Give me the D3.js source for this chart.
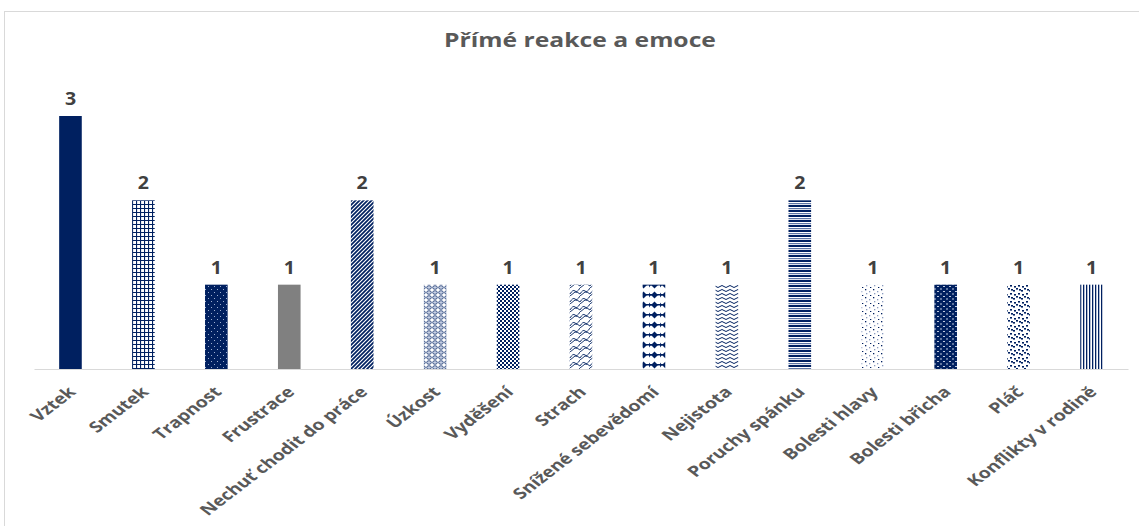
<!DOCTYPE html>
<html>
<head>
<meta charset="utf-8">
<script src="https://cdn.jsdelivr.net/npm/d3@7"></script>
<style>
  body { margin: 0; background: #fff; }
  text { font-family: "Open Sans", sans-serif; }
</style>
</head>
<body>
<div id="chart"></div>
<script>
const categories = ["Vztek", "Smutek", "Trapnost", "Frustrace", "Nechuť chodit do práce", "Úzkost",
  "Vyděšení", "Strach", "Snížené sebevědomí", "Nejistota", "Poruchy spánku", "Bolesti hlavy",
  "Bolesti břicha", "Pláč", "Konflikty v rodině"];
const values = [3, 2, 1, 1, 2, 1, 1, 1, 1, 1, 2, 1, 1, 1, 1];
const barFills = ["solid", "grid", "dotsInv", "gray", "diag", "sphere", "checker", "zigzag",
  "diamond", "wave", "hstripe", "sparse", "denseDash", "confetti", "vstripe"];

const navy = "#002060";
const W = 1139, H = 526;
const margin = { top: 116, right: 11, bottom: 157, left: 34 };
const stretch = 1.3; // the reference text is widened horizontally

const svg = d3.select("#chart").append("svg").attr("width", W).attr("height", H);
const defs = svg.append("defs");

// pattern helpers
function pat(id, w, h, bg) {
  const p = defs.append("pattern").attr("id", id).attr("patternUnits", "userSpaceOnUse")
    .attr("width", w).attr("height", h);
  p.append("rect").attr("width", w).attr("height", h).attr("fill", bg);
  return p;
}
let p;
p = pat("grid", 4, 4, "#fff");
p.append("path").attr("d", "M0,0.5H4M0.5,0V4").attr("stroke", navy).attr("stroke-width", 1.2);

p = pat("dotsInv", 6, 6, navy);
p.append("rect").attr("x", 1).attr("y", 1).attr("width", 1).attr("height", 1).attr("fill", "#9fb0d0");
p.append("rect").attr("x", 4).attr("y", 4).attr("width", 1).attr("height", 1).attr("fill", "#9fb0d0");

p = pat("diag", 4, 4, "#fff");
p.append("path").attr("d", "M-1,1L1,-1M0,4L4,0M3,5L5,3").attr("stroke", navy).attr("stroke-width", 1.7);

p = pat("sphere", 6, 5, "#fff");
p.append("ellipse").attr("cx", 3).attr("cy", 2.5).attr("rx", 2.3).attr("ry", 1.8).attr("fill", "#c7d0e4")
  .attr("stroke", navy).attr("stroke-width", 0.7);

p = pat("checker", 4, 4, "#fff");
p.append("rect").attr("width", 2).attr("height", 2).attr("fill", navy);
p.append("rect").attr("x", 2).attr("y", 2).attr("width", 2).attr("height", 2).attr("fill", navy);

p = pat("zigzag", 10, 8, "#fff");
p.append("path").attr("d", "M0,6Q3,1 5,3T10,0M0,8L5,4Q8,4 10,6").attr("fill", "none")
  .attr("stroke", navy).attr("stroke-width", 0.9);

p = pat("diamond", 11, 10, "#fff");
p.append("path").attr("d", "M5.5,1.5L9,5L5.5,8.5L2,5Z").attr("fill", navy);
p.append("path").attr("d", "M0,2.5L2,5L0,7.5Z").attr("fill", navy);
p.append("rect").attr("x", 0).attr("y", 4).attr("width", 11).attr("height", 1.5).attr("fill", navy);

p = pat("wave", 8, 4, "#fff");
p.append("path").attr("d", "M0,2.5Q2,0.5 4,2.5T8,2.5").attr("fill", "none").attr("stroke", navy).attr("stroke-width", 1);

p = pat("hstripe", 4, 5, "#fff");
p.append("rect").attr("y", 0).attr("width", 4).attr("height", 2).attr("fill", navy);
p.append("rect").attr("y", 3).attr("width", 4).attr("height", 1.2).attr("fill", "#5f76a6");

p = pat("sparse", 8, 8, "#fff");
[[1, 1, navy], [5, 3, "#8c9cc0"], [2, 5, "#8c9cc0"], [6, 7, navy]].forEach(([x, y, c]) =>
  p.append("rect").attr("x", x).attr("y", y).attr("width", 1.3).attr("height", 1.3).attr("fill", c));

p = pat("denseDash", 6, 5, navy);
p.append("rect").attr("x", 1).attr("y", 1).attr("width", 2).attr("height", 1).attr("fill", "#c0cbe0");
p.append("rect").attr("x", 4).attr("y", 3.5).attr("width", 2).attr("height", 1).attr("fill", "#c0cbe0");

p = pat("confetti", 8, 8, "#fff");
[[0, 0], [5, 2], [2, 5], [6, 6], [3, 1]].forEach(([x, y]) =>
  p.append("rect").attr("x", x).attr("y", y).attr("width", 2).attr("height", 1.6).attr("fill", navy));

p = pat("vstripe", 3, 4, "#fff");
p.append("rect").attr("x", 0).attr("width", 1.3).attr("height", 4).attr("fill", navy);

const fillOf = k => k === "solid" ? navy : k === "gray" ? "#808080" : `url(#${k})`;

// chart frame
svg.append("rect").attr("x", 4.5).attr("y", 11.5).attr("width", 1200).attr("height", 600)
  .attr("fill", "none").attr("stroke", "#d9d9d9");

svg.append("text").attr("transform", `translate(580,47) scale(${stretch},1)`).attr("text-anchor", "middle")
  .attr("font-size", 19).attr("font-weight", 700).attr("fill", "#595959")
  .text("Přímé reakce a emoce");

const x = d3.scaleBand().domain(categories).range([margin.left, W - margin.right])
  .paddingInner(0.69).paddingOuter(0.345);
const y = d3.scaleLinear().domain([0, 3]).range([H - margin.bottom, margin.top]);

svg.append("g").selectAll("rect").data(categories).join("rect")
  .attr("x", d => x(d)).attr("width", x.bandwidth())
  .attr("y", (d, i) => y(values[i])).attr("height", (d, i) => y(0) - y(values[i]))
  .attr("fill", (d, i) => fillOf(barFills[i]));

svg.append("g").selectAll("text").data(categories).join("text")
  .attr("transform", (d, i) => `translate(${x(d) + x.bandwidth() / 2},${y(values[i]) - 11}) scale(1.15,1)`)
  .attr("text-anchor", "middle").attr("font-size", 17).attr("font-weight", 700).attr("fill", "#404040")
  .text((d, i) => values[i]);

const xAxis = svg.append("g").attr("transform", `translate(0,${y(0)})`)
  .call(d3.axisBottom(x).tickSize(0).tickSizeOuter(0));
xAxis.select(".domain").attr("stroke", "#d9d9d9");
xAxis.selectAll(".tick text")
  .attr("font-size", 15).attr("font-weight", 700).attr("fill", "#595959")
  .attr("text-anchor", "end")
  .attr("x", 0).attr("y", 0).attr("dy", "0.75em")
  .attr("transform", `translate(-4,16) scale(${stretch},1) rotate(-45)`);
</script>
</body>
</html>
